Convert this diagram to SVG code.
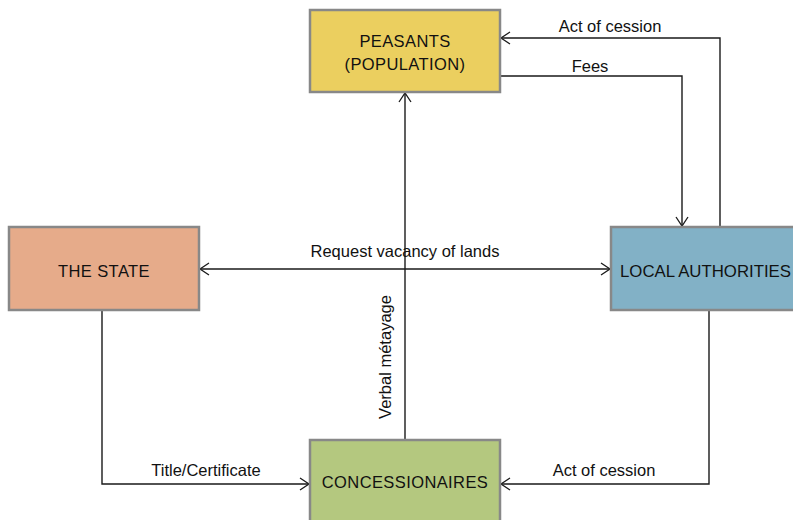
<svg xmlns="http://www.w3.org/2000/svg" width="793" height="520" viewBox="0 0 793 520">
<defs>
<marker id="arr" markerWidth="12" markerHeight="14" refX="10" refY="7" orient="auto" markerUnits="userSpaceOnUse">
<path d="M1,1 L10,7 L1,13" fill="none" stroke="#1a1a1a" stroke-width="1.3"/>
</marker>
<marker id="arrs" markerWidth="12" markerHeight="14" refX="0" refY="7" orient="auto" markerUnits="userSpaceOnUse">
<path d="M9,1 L0,7 L9,13" fill="none" stroke="#1a1a1a" stroke-width="1.3"/>
</marker>
</defs>
<style>
.box{stroke:#888;stroke-width:2.5}
.nt{font-family:"Liberation Sans",Arial,sans-serif;font-size:16.5px;letter-spacing:0.4px;fill:#111;text-anchor:middle}
.lb{font-family:"Liberation Sans",Arial,sans-serif;font-size:16.5px;fill:#111;text-anchor:middle}
.ln{fill:none;stroke:#1a1a1a;stroke-width:1.4}
</style>
<rect width="793" height="520" fill="#fff"/>
<g id="connectors">
<path class="ln" d="M720,227 V38 H501" marker-end="url(#arr)"/>
<path class="ln" d="M500,76 H682 V226" marker-end="url(#arr)"/>
<path class="ln" d="M405,440 V93" marker-end="url(#arr)"/>
<path class="ln" d="M200,269 H610" marker-start="url(#arrs)" marker-end="url(#arr)"/>
<path class="ln" d="M102,311 V484 H309" marker-end="url(#arr)"/>
<path class="ln" d="M709,311 V484 H501" marker-end="url(#arr)"/>
<text class="lb" x="610" y="32">Act of cession</text>
<text class="lb" x="590" y="72">Fees</text>
<text class="lb" x="405" y="257">Request vacancy of lands</text>
<text class="lb" transform="translate(391,357) rotate(-90)" x="0" y="0">Verbal métayage</text>
<text class="lb" x="206" y="476">Title/Certificate</text>
<text class="lb" x="604" y="476">Act of cession</text>
</g>
<g id="peasants">
<rect class="box" x="310" y="10" width="190" height="82" fill="#EBCF5F"/>
<text class="nt" x="405" y="47">PEASANTS</text>
<text class="nt" x="405" y="70">(POPULATION)</text>
</g>
<g id="state">
<rect class="box" x="9" y="227" width="190" height="83" fill="#E6AB8A"/>
<text class="nt" x="104" y="277">THE STATE</text>
</g>
<g id="local">
<rect class="box" x="611" y="227" width="190" height="83" fill="#82B1C6"/>
<text class="nt" x="620" y="277" style="text-anchor:start;letter-spacing:0" textLength="171" lengthAdjust="spacingAndGlyphs">LOCAL AUTHORITIES</text>
</g>
<g id="concessionaires">
<rect class="box" x="310" y="440" width="190" height="90" fill="#B4C87F"/>
<text class="nt" x="405" y="488">CONCESSIONAIRES</text>
</g>
</svg>
